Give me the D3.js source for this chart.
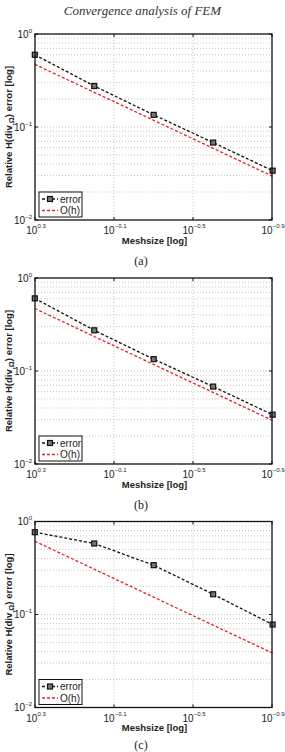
<!DOCTYPE html>
<html>
<head>
<meta charset="utf-8">
<script src="https://cdn.jsdelivr.net/npm/d3@7/dist/d3.min.js"></script>
<style>
html,body{margin:0;padding:0;background:#fff;}
svg{display:block;}
</style>
</head>
<body>
<svg id="chart" width="285" height="752"></svg>
<script>
// ---- data ----
const titleText = "Convergence analysis of FEM";
const meshsize = [2, 1, 0.5, 0.25, 0.125];
const errorA = [0.598, 0.276, 0.135, 0.068, 0.0339];
const orderA = [0.472, 0.236, 0.118, 0.059, 0.0295];
const errorB = [0.604, 0.274, 0.134, 0.068, 0.0339];
const orderB = [0.470, 0.235, 0.1175, 0.0588, 0.0294];
const errorC = [0.767, 0.580, 0.339, 0.165, 0.078];
const orderC = [0.614, 0.307, 0.1535, 0.0768, 0.0384];
const xTickExps = ["0.3", "-0.1", "-0.5", "-0.9"];
const yTickExps = ["0", "-1", "-2"];
const captions = ["(a)", "(b)", "(c)"];
const seriesNames = ["error", "O(h)"];

const panels = [
  {err: errorA, ord: orderA, cap: captions[0], top: 34},
  {err: errorB, ord: orderB, cap: captions[1], top: 278},
  {err: errorC, ord: orderC, cap: captions[2], top: 521.5}
];

const svg = d3.select("#chart");
const W = 285, H = 752;
const left = 35, right = 272, ph = 186;
const sans = "'Liberation Sans', Arial, Helvetica, sans-serif";
const serif = "'Liberation Serif', 'Times New Roman', Times, serif";

svg.append("text")
  .attr("x", W/2).attr("y", 15)
  .attr("text-anchor", "middle")
  .attr("font-family", serif).attr("font-style", "italic")
  .attr("font-size", 13).attr("fill", "#333")
  .text(titleText);

panels.forEach(p => {
  const top = p.top, bottom = top + ph;
  const x = d3.scaleLog().domain([Math.pow(10, 0.3), Math.pow(10, -0.9)]).range([left, right]);
  const y = d3.scaleLog().domain([0.01, 1]).range([bottom, top]);
  const g = svg.append("g");

  // grid: horizontal at all log ticks
  const yMinor = [];
  for (let k = -2; k < 0; k++) for (let m = 1; m <= 9; m++) yMinor.push(m * Math.pow(10, k));
  g.selectAll(".hg").data(yMinor.filter(v => v > 0.0100001)).enter().append("line")
    .attr("x1", left).attr("x2", right)
    .attr("y1", d => y(d)).attr("y2", d => y(d))
    .attr("stroke", "#b8b8b8").attr("stroke-width", 0.8).attr("stroke-dasharray", "1,2");
  const xTicks = xTickExps.map(e => Math.pow(10, +e));
  g.selectAll(".vg").data(xTicks.slice(1, 3)).enter().append("line")
    .attr("x1", d => x(d)).attr("x2", d => x(d))
    .attr("y1", top).attr("y2", bottom)
    .attr("stroke", "#b8b8b8").attr("stroke-width", 0.8).attr("stroke-dasharray", "1,2");

  // lines
  const line = d3.line().x((d, i) => x(meshsize[i])).y(d => y(d));
  g.append("path").datum(p.ord).attr("d", line)
    .attr("fill", "none").attr("stroke", "#e8202a").attr("stroke-width", 1.3)
    .attr("stroke-dasharray", "3,2");
  g.append("path").datum(p.err).attr("d", line)
    .attr("fill", "none").attr("stroke", "#111").attr("stroke-width", 1.3)
    .attr("stroke-dasharray", "3,2");
  const ms = 5;
  g.selectAll(".mk").data(p.err).enter().append("rect")
    .attr("x", (d, i) => x(meshsize[i]) - ms/2).attr("y", d => y(d) - ms/2)
    .attr("width", ms).attr("height", ms)
    .attr("fill", "#777").attr("stroke", "#111").attr("stroke-width", 1.2);

  // axes box
  g.append("rect").attr("x", left).attr("y", top).attr("width", right - left).attr("height", ph)
    .attr("fill", "none").attr("stroke", "#111").attr("stroke-width", 1.3);

  // ticks
  const yMajor = [1, 0.1, 0.01];
  yMajor.forEach(v => {
    g.append("line").attr("x1", left).attr("x2", left + 3).attr("y1", y(v)).attr("y2", y(v)).attr("stroke", "#111");
    g.append("line").attr("x1", right).attr("x2", right - 3).attr("y1", y(v)).attr("y2", y(v)).attr("stroke", "#111");
  });
  xTicks.forEach(v => {
    g.append("line").attr("x1", x(v)).attr("x2", x(v)).attr("y1", bottom).attr("y2", bottom - 3).attr("stroke", "#111");
    g.append("line").attr("x1", x(v)).attr("x2", x(v)).attr("y1", top).attr("y2", top + 3).attr("stroke", "#111");
  });

  // y tick labels
  yMajor.forEach((v, i) => {
    const t = g.append("text").attr("x", 32).attr("y", y(v) + 3.5)
      .attr("text-anchor", "end").attr("font-family", sans).attr("fill", "#222");
    t.append("tspan").attr("font-size", 10).text("10");
    t.append("tspan").attr("font-size", 6).attr("dy", -5).text(yTickExps[i].replace("-", "\u2212"));
  });
  // x tick labels
  xTicks.forEach((v, i) => {
    const t = g.append("text").attr("x", x(v) + 1).attr("y", bottom + 14)
      .attr("text-anchor", "middle").attr("font-family", sans).attr("fill", "#222");
    t.append("tspan").attr("font-size", 10).text("10");
    t.append("tspan").attr("font-size", 6).attr("dy", -6).text(xTickExps[i].replace("-", "\u2212"));
  });

  // axis labels
  g.append("text").attr("x", (left + right) / 2 + 1).attr("y", bottom + 23.5)
    .attr("text-anchor", "middle").attr("font-family", sans).attr("font-weight", "bold")
    .attr("font-size", 9.5).attr("fill", "#222").text("Meshsize [log]");
  const yl = g.append("text")
    .attr("transform", `translate(12,${(top + bottom) / 2}) rotate(-90)`)
    .attr("text-anchor", "middle").attr("font-family", sans).attr("font-weight", "bold")
    .attr("font-size", 9.5).attr("fill", "#222");
  yl.append("tspan").text("Relative H(div");
  yl.append("tspan").attr("font-size", 7.5).attr("dy", 1.5).text(",\u03A9");
  yl.append("tspan").attr("dy", -1.5).text(") error [log]");

  // legend
  const lx = left + 4, ly = bottom - 28;
  g.append("rect").attr("x", lx).attr("y", ly).attr("width", 43).attr("height", 25)
    .attr("fill", "#fff").attr("stroke", "#111").attr("stroke-width", 1);
  const rows = [{c: "#111", m: true, yy: ly + 7}, {c: "#e8202a", m: false, yy: ly + 18.5}];
  rows.forEach((r, i) => {
    g.append("line").attr("x1", lx + 3).attr("x2", lx + 19).attr("y1", r.yy).attr("y2", r.yy)
      .attr("stroke", r.c).attr("stroke-width", 1.3).attr("stroke-dasharray", "3,2");
    if (r.m) g.append("rect").attr("x", lx + 11 - ms/2).attr("y", r.yy - ms/2).attr("width", ms).attr("height", ms)
      .attr("fill", "#777").attr("stroke", "#111").attr("stroke-width", 1.2);
    g.append("text").attr("x", lx + 21).attr("y", r.yy + 3.5)
      .attr("font-family", sans).attr("font-size", 10).attr("fill", "#222").text(seriesNames[i]);
  });

  // caption (kept inside the page)
  svg.append("text").attr("x", 141).attr("y", Math.min(bottom + 44.5, H - 3.5))
    .attr("text-anchor", "middle").attr("font-family", serif).attr("font-size", 12)
    .attr("fill", "#222").text(p.cap);
});
</script>
</body>
</html>
